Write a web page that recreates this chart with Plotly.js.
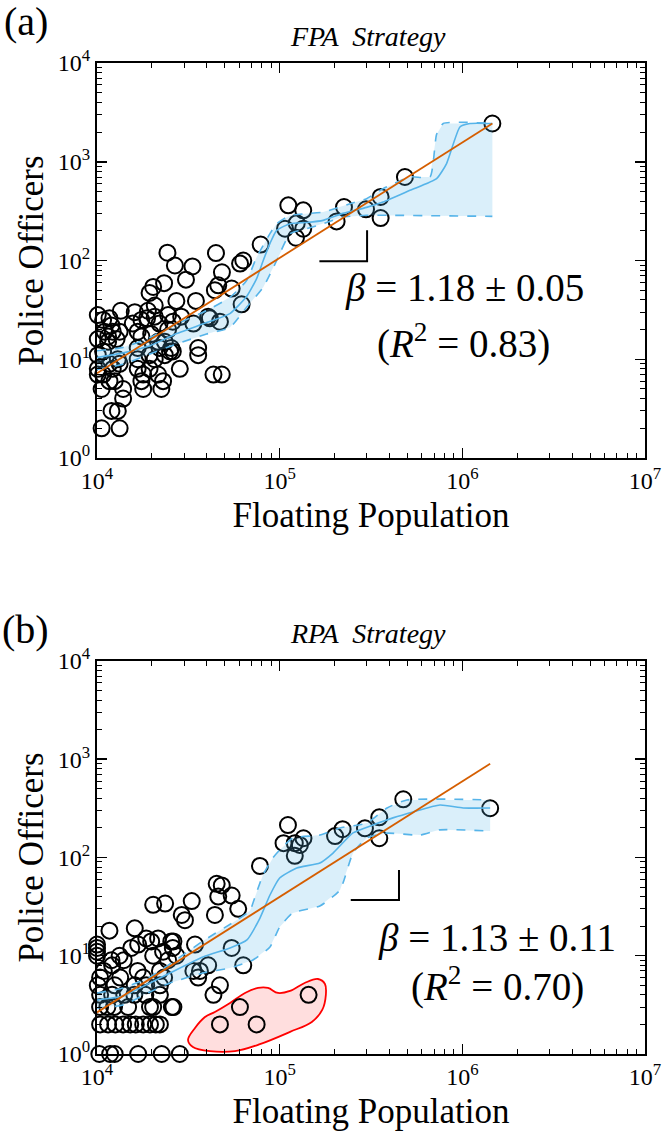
<!DOCTYPE html>
<html>
<head>
<meta charset="utf-8">
<script src="https://cdn.plot.ly/plotly-3.0.1.min.js"></script>
<style>html,body{margin:0;padding:0;background:#fff;}#chart{width:663px;height:1136px;}</style>
</head>
<body>
<div id="chart"></div>
<script>
// ---------- Panel (a): FPA strategy ----------
const aX = [24300,26700,33300,30700,44800,48300,60700,63200,78700,107000,111500,134600,124000,134600,122800,205000,225000,297000,357000,357000,485000,1460000,
  23300,20300,19400,27200,20700,19000,34800,44200,46100,54600,61900,28900,33700,40600,41500,47100,35800,35800,28400,25100,43400,48200,
  10100,10800,11700,13500,16100,17500,18800,20700,24500,22000,26000,10100,11000,12200,13300,12800,11500,16700,17500,16700,19800,21600,23500,25500,22000,26000,19400,
  10100,10800,13000,11700,10100,10800,10100,12200,13300,16700,17900,19400,21600,23000,17500,11700,12500,10600,17900,22500,13900,13900,12000,13000,10600,13300,
  11500,12000,15700,24500,23500,20700,16700];
const aY = [120,89,87,64,119,76,93,100,145,210,362,322,239,210,170,249,348,330,440,269,701,2440,
  59,54,47,39,35,31,39,50,56,52,36,27,23,27,26,24,13,11,8,12,7,7,
  28,25,26,31,30,25,26,27,28,23,24,16,19,19,19,16,15,19,17,13,18,15,15,13,13,12,11,
  11,12,10,9,8,7,7,8,9,8,7,8,7,6,6,6,6,5,5,5,5,4,3,3,2,2,
  17,22,23,20,11,10,10];
const aFitX = [10000, 1460000];
const aFitY = [7.2, 2440];
const aMidX = [10000,13900,19500,27300,39800,53400,65900,74800,81300,88500,96300,114000,141000,173000,222000,299000,368000,517000,723000,820000,970000,1100000,1460000];
const aMidY = [10.4,11.6,13.7,18.2,23.5,29.0,43.1,65.6,100,149,202,236,243,255,300,345,391,514,675,959,2250,2440,2440];
const aUpX = [10000,13900,19500,27300,39800,53400,65900,74800,88500,96300,114000,141000,173000,243000,299000,368000,517000,665000,723000,786000,1460000];
const aUpY = [12.2,13.2,16.6,22.8,31.1,42.4,62.6,108,187,236,287,298,309,376,423,534,702,702,1900,2444,2444];
const aLoX = [10000,13900,19500,27300,39800,53400,65900,81300,96300,114000,141000,173000,222000,299000,401000,1460000];
const aLoY = [7.9,8.9,11.3,14.3,18.0,21.0,33.6,53.6,100,187,210,236,275,287,287,280];
const aSlopeX = [165000, 301000, 301000];
const aSlopeY = [98.5, 98.5, 202];

// ---------- Panel (b): RPA strategy ----------
const bX = [10300,11800,12500,16800,22600,28400,
  10400,11500,12600,13900,15200,16300,17900,19500,21000,22100,
  10400,11400,12400,14800,19500,20300,25700,26200,
  10400,12100,14100,16000,18400,22100,43400,
  10100,12500,16100,18600,22100,47100,
  10400,13400,17900,23300,35800,
  10900,16700,22100,33700,36600,
  12100,40600,63200,
  12000,14000,24500,
  10000,13300,20300,27200,
  10000,23000,
  10000,15400,54600,26000,
  10000,16800,34400,
  26200,18600,19800,21600,25500,
  11700,16100,
  30300,29100,44200,59300,20300,23600,33000,46100,54600,48200,45200,78000,
  111000,105000,121000,135000,129000,121000,201000,221000,293000,351000,351000,475000,1420000,
  47100,60600,74800,144000];
const bY = [1,1,1,1,1,1,
  2,2,2,2,2,2,2,2,2,2,
  3,3,3,3,3,3,3,3,
  4,4,4,4,4,4,4,
  5,5,5,5,5,5,
  6,6,6,6,6,
  7,7,7,7,7,
  8,8,8,
  9,9,9,
  10,10,10,10,
  11,11,
  12,12,12,12,
  13,13,13,
  14,15,14,15,14,
  18,19,
  23,26,26,30,33,34,36,40,41,52,54,82,
  214,140,140,157,134,104,165,194,198,256,157,391,317,
  2,3,2,4];
const bFitX = [10000, 1420000];
const bFitY = [2.65, 900];
const bMidX = [10000,13900,19500,25100,38000,53500,66200,78000,88500,100000,124000,166000,196000,252000,324000,417000,537000,754000,1010000,1420000];
const bMidY = [3.55,3.89,5.28,6.67,9.7,12.0,14.5,24.2,41.5,61.8,78.2,87.9,111,178,214,253,291,342,319,319];
const bUpX = [10000,13900,19500,25100,38000,58300,68800,71400,81000,91800,100000,118000,166000,214000,300000,387000,497000,1420000];
const bUpY = [4.18,4.70,6.08,8.24,14.1,23.1,28.7,34.4,66.4,98.9,119,158,169,200,224,319,385,385];
const bLoX = [10000,13900,19500,25100,38000,53500,71400,88500,100000,118000,166000,214000,252000,300000,387000,586000,754000,1420000];
const bLoY = [2.94,3.15,4.28,5.28,6.67,7.50,9.05,12.3,19.6,27.3,32.1,46.7,111,158,177,169,191,186];
const bSlopeX = [245000, 450000, 450000];
const bSlopeY = [36.9, 36.9, 74.6];
const bOutX = [31500,34400,39000,44200,53500,64600,76100,86300,97900,114000,137000,162000,177000,179000,171000,150000,114000,78000,56900,41500,33500,31500];
const bOutY = [1.39,1.84,2.38,2.68,3.31,4.18,4.70,4.70,4.18,4.38,5.28,5.80,5.16,3.99,2.81,2.12,1.68,1.26,1.07,1.07,1.18,1.39];

// tick labels
const xTickVals = [1e4, 1e5, 1e6, 1e7];
const xTickText = ['10<sup>4</sup>', '10<sup>5</sup>', '10<sup>6</sup>', '10<sup>7</sup>'];
const yTickVals = [1, 10, 100, 1000, 10000];
const yTickText = ['10<sup>0</sup>', '10<sup>1</sup>', '10<sup>2</sup>', '10<sup>3</sup>', '10<sup>4</sup>'];

const BLUE = '#56B4E9', ORANGE = '#D55E00', FILL = 'rgba(86,180,233,0.22)';
const FONT = 'Liberation Serif, DejaVu Serif, serif';

function minorVals(lo, hi) {
  const v = [];
  for (let d = lo; d < hi; d++) for (let k = 2; k <= 9; k++) v.push(k * Math.pow(10, d));
  return v;
}

function panel(px, py, ptsX, ptsY, fitX, fitY, midX, midY, upX, upY, loX, loY, slX, slY) {
  const polyX = upX.concat(loX.slice().reverse());
  const polyY = upY.concat(loY.slice().reverse());
  return [
    {x: ptsX, y: ptsY, xaxis: px, yaxis: py, mode: 'markers', type: 'scatter', cliponaxis: false,
     marker: {symbol: 'circle-open', size: 16, color: 'black', line: {width: 2, color: 'black'}}},
    {x: polyX, y: polyY, xaxis: px, yaxis: py, mode: 'lines', fill: 'toself', fillcolor: FILL,
     line: {width: 0}, hoverinfo: 'skip'},
    {x: upX, y: upY, xaxis: px, yaxis: py, mode: 'lines', line: {color: BLUE, width: 1.6, dash: 'dash', shape: 'spline', smoothing: 0.5}},
    {x: loX, y: loY, xaxis: px, yaxis: py, mode: 'lines', line: {color: BLUE, width: 1.6, dash: 'dash', shape: 'spline', smoothing: 0.5}},
    {x: midX, y: midY, xaxis: px, yaxis: py, mode: 'lines', line: {color: BLUE, width: 1.6, shape: 'spline', smoothing: 0.5}},
    {x: fitX, y: fitY, xaxis: px, yaxis: py, mode: 'lines', line: {color: ORANGE, width: 1.8}},
    {x: slX, y: slY, xaxis: px, yaxis: py, mode: 'lines', line: {color: 'black', width: 2}}
  ];
}

const traces = [].concat(
  panel('x', 'y', aX, aY, aFitX, aFitY, aMidX, aMidY, aUpX, aUpY, aLoX, aLoY, aSlopeX, aSlopeY),
  panel('x2', 'y2', bX, bY, bFitX, bFitY, bMidX, bMidY, bUpX, bUpY, bLoX, bLoY, bSlopeX, bSlopeY)
);
// red contour in panel (b)
traces.splice(traces.length - 7, 0, {x: bOutX, y: bOutY, xaxis: 'x2', yaxis: 'y2', mode: 'lines', fill: 'toself',
  fillcolor: 'rgba(255,0,0,0.13)', line: {color: '#ff0000', width: 1.8, shape: 'spline', smoothing: 1}});

function common() {
  return {type: 'log', tickmode: 'array', ticks: 'inside', ticklen: 10, tickwidth: 1.5, tickcolor: 'black',
    showline: true, linewidth: 2, linecolor: 'black', mirror: 'ticks', showgrid: false, zeroline: false,
    tickfont: {family: FONT, size: 24, color: 'black'}};
}
function xa(anchor) {
  return Object.assign(common(), {anchor: anchor, domain: [0, 1], range: [4, 7],
    tickvals: xTickVals, ticktext: xTickText,
    minor: {tickmode: 'array', tickvals: minorVals(4, 7), ticks: 'inside', ticklen: 5, tickwidth: 1, tickcolor: 'black', showgrid: false},
    title: {text: 'Floating Population', font: {family: FONT, size: 35, color: 'black'}, standoff: 10}});
}
function ya(anchor, dom) {
  return Object.assign(common(), {anchor: anchor, domain: dom, range: [0, 4],
    tickvals: yTickVals, ticktext: yTickText,
    minor: {tickmode: 'array', tickvals: minorVals(0, 4), ticks: 'inside', ticklen: 5, tickwidth: 1, tickcolor: 'black', showgrid: false},
    title: {text: 'Police Officers', font: {family: FONT, size: 35, color: 'black'}, standoff: 4}});
}

function ann(text, xref, yref, x, y, size) {
  return {text: text, xref: xref, yref: yref, x: x, y: y, showarrow: false,
    xanchor: 'center', yanchor: 'middle', font: {family: FONT, size: size, color: 'black'}};
}

const layout = {
  width: 663, height: 1136, showlegend: false,
  paper_bgcolor: 'white', plot_bgcolor: 'white',
  margin: {l: 97, r: 18, t: 63, b: 82},
  xaxis: xa('y'), yaxis: ya('x', [0.6014, 1]),
  xaxis2: xa('y2'), yaxis2: ya('x2', [0, 0.3966]),
  annotations: [
    ann('(a)', 'x domain', 'y domain', -0.130, 1.104, 40),
    ann('<i>FPA  Strategy</i>', 'x domain', 'y domain', 0.495, 1.068, 28),
    ann('<i>β</i> = 1.18 ± 0.05', 'x domain', 'y domain', 0.670, 0.430, 39),
    ann('(<i>R</i><sup>2</sup> = 0.83)', 'x domain', 'y domain', 0.668, 0.296, 39),
    ann('(b)', 'x2 domain', 'y2 domain', -0.130, 1.079, 40),
    ann('<i>RPA  Strategy</i>', 'x2 domain', 'y2 domain', 0.495, 1.071, 28),
    ann('<i>β</i> = 1.13 ± 0.11', 'x2 domain', 'y2 domain', 0.730, 0.295, 39),
    ann('(<i>R</i><sup>2</sup> = 0.70)', 'x2 domain', 'y2 domain', 0.730, 0.176, 39)
  ]
};

Plotly.newPlot('chart', traces, layout, {displayModeBar: false, staticPlot: true});
</script>
</body>
</html>
